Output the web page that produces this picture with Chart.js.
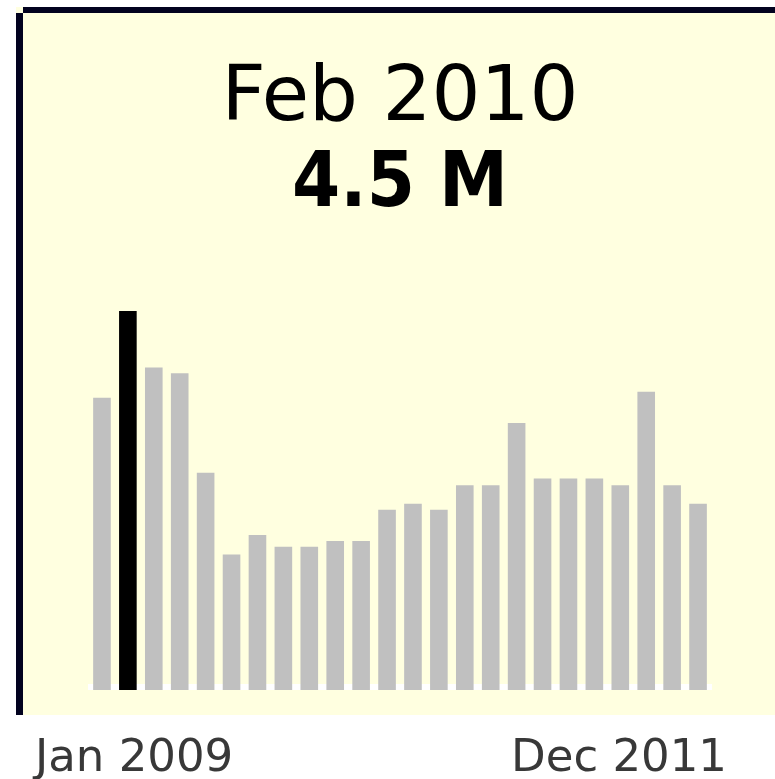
<!DOCTYPE html>
<html>
<head>
<meta charset="utf-8">
<script src="https://cdn.jsdelivr.net/npm/chart.js@4/dist/chart.umd.min.js"></script>
<style>
  html, body { margin:0; padding:0; background:#fff; }
  canvas { display:block; }
</style>
</head>
<body>
<canvas id="spark" width="775" height="779"></canvas>
<script>
// datos (millones)
const values = [3.47, 4.5, 3.83, 3.76, 2.58, 1.61, 1.84, 1.70, 1.70, 1.77, 1.77, 2.14,
                2.21, 2.14, 2.43, 2.43, 3.17, 2.51, 2.51, 2.51, 2.43, 3.54, 2.43, 2.21];
const labels = ['Jan 2009', '', '', '', '', '', '', '', '', '', '', '',
                '', '', '', '', '', '', '', '', '', '', '', 'Dec 2011'];
const highlightIndex = 1;
const highlightTitle = 'Feb 2010';
const highlightValue = '4.5 M';

const BAR = '#c0c0c0';
const BAR_HI = '#000000';

// fondo amarillo + bordes
const panelBg = {
  id: 'panelBg',
  beforeDraw(chart) {
    const { ctx, width, height } = chart;
    ctx.save();
    ctx.fillStyle = '#ffffff';
    ctx.fillRect(0, 0, width, height);
    ctx.fillStyle = '#ffffe0';
    ctx.fillRect(16, 7, width - 16, 708);
    ctx.fillStyle = '#02021f';
    ctx.fillRect(23, 7, width - 23, 6);
    ctx.fillRect(16, 13, 7, 702);
    ctx.restore();
  },
  beforeDatasetsDraw(chart) {
    const { ctx, chartArea: a } = chart;
    ctx.save();
    ctx.fillStyle = '#ffffff';
    ctx.fillRect(a.left - 1, a.bottom - 6, a.right - a.left + 2, 6);
    ctx.restore();
  },
  afterDraw(chart) {
    const { ctx, chartArea: a } = chart;
    ctx.save();
    ctx.font = '45px "DejaVu Sans"';
    ctx.fillStyle = '#383838';
    ctx.textBaseline = 'alphabetic';
    ctx.textAlign = 'left';
    ctx.fillText(labels[0], a.left - 54, 771);
    ctx.textAlign = 'right';
    ctx.fillText(labels[labels.length - 1], a.right + 16, 771);
    ctx.restore();
  }
};

new Chart(document.getElementById('spark'), {
  type: 'bar',
  data: {
    labels: labels,
    datasets: [{
      data: values,
      backgroundColor: values.map((_, i) => i === highlightIndex ? BAR_HI : BAR),
      borderWidth: 0,
      barPercentage: 0.68,
      categoryPercentage: 1
    }]
  },
  options: {
    responsive: false,
    animation: false,
    layout: { padding: { left: 89, right: 64, top: 0, bottom: 89 } },
    plugins: {
      legend: { display: false },
      tooltip: { enabled: false },
      title: {
        display: true,
        text: highlightTitle,
        color: '#000',
        font: { family: '"DejaVu Sans"', size: 77, weight: 'normal', lineHeight: 1 },
        padding: { top: 61, bottom: 0 }
      },
      subtitle: {
        display: true,
        text: highlightValue,
        color: '#000',
        font: { family: '"DejaVu Sans Condensed", "DejaVu Sans"', size: 77, weight: 'bold', lineHeight: 1 },
        padding: { top: 9, bottom: 87 }
      }
    },
    scales: {
      x: { display: false, grid: { display: false } },
      y: { display: false, min: 0, max: Math.max(...values), grid: { display: false } }
    }
  },
  plugins: [panelBg]
});
</script>
</body>
</html>
